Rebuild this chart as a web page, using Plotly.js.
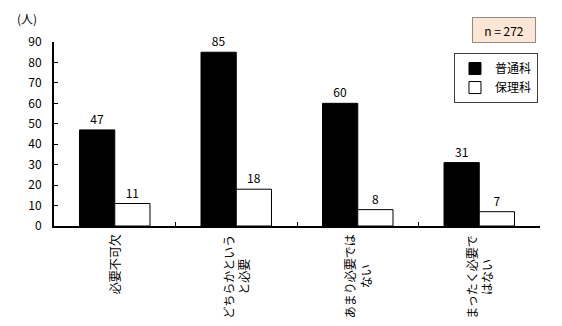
<!DOCTYPE html>
<html>
<head>
<meta charset="utf-8">
<script src="https://cdn.plot.ly/plotly-3.0.1.min.js"></script>
<style>html,body{margin:0;padding:0;background:#fff;}</style>
</head>
<body>
<div id="chart" style="width:562px;height:326px;"></div>
<script>
const categories = ['必要不可欠', 'どちらかというと必要', 'あまり必要ではない', 'まったく必要ではない'];
const categoryLabels = ['必要不可欠', 'どちらかという<br>と必要', 'あまり必要では<br>ない', 'まったく必要で<br>はない'];
const seriesNames = ['普通科', '保理科'];
const futsuka = [47, 85, 60, 31];
const hokenka = [11, 18, 8, 7];
const yTicks = [0, 10, 20, 30, 40, 50, 60, 70, 80, 90];
const unitLabel = '(人)';
const nLabel = 'n = 272';

const FONT = '"Noto Sans CJK JP", "Liberation Sans", sans-serif';

const traces = [
  {
    type: 'bar', name: seriesNames[0], x: categories, y: futsuka,
    marker: {color: '#000000', line: {color: '#000000', width: 1}},
    text: futsuka.map(String), textposition: 'outside', cliponaxis: false,
    textfont: {family: FONT, size: 12, color: '#000'}
  },
  {
    type: 'bar', name: seriesNames[1], x: categories, y: hokenka,
    marker: {color: '#ffffff', line: {color: '#000000', width: 1}},
    text: hokenka.map(String), textposition: 'outside', cliponaxis: false,
    textfont: {family: FONT, size: 12, color: '#000'}
  }
];

const annotations = categories.map((c, i) => ({
  x: c, xref: 'x', y: -0.035, yref: 'paper',
  text: categoryLabels[i], textangle: -90, showarrow: false,
  xanchor: 'center', yanchor: 'top', align: 'center',
  font: {family: FONT, size: 12, color: '#000'}
}));
annotations.push({
  x: -0.055, xref: 'paper', y: 1.13, yref: 'paper', text: unitLabel,
  showarrow: false, xanchor: 'center', yanchor: 'middle',
  font: {family: FONT, size: 12, color: '#000'}
});
annotations.push({
  x: 0.926, xref: 'paper', y: 1.065, yref: 'paper', text: nLabel,
  showarrow: false, xanchor: 'center', yanchor: 'middle',
  width: 58, height: 20, borderpad: 2,
  bgcolor: '#fde6d3', bordercolor: '#8c8c8c', borderwidth: 1,
  font: {family: FONT, size: 12, color: '#000'}
});

const layout = {
  width: 562, height: 326,
  margin: {l: 54, r: 22, t: 42, b: 100},
  paper_bgcolor: '#fff', plot_bgcolor: '#fff',
  barmode: 'group', bargap: 0.42, bargroupgap: 0,
  showlegend: true,
  legend: {
    x: 0.823, y: 0.94, xanchor: 'left', yanchor: 'top',
    bgcolor: '#fff', bordercolor: '#404040', borderwidth: 1,
    font: {family: FONT, size: 12, color: '#000'},
    itemwidth: 30, tracegroupgap: 0
  },
  xaxis: {
    type: 'category', range: [-0.5, 3.5], showticklabels: false,
    tickson: 'boundaries', ticks: 'inside', ticklen: 4, tickcolor: '#000',
    showline: true, linecolor: '#000', linewidth: 2, showgrid: false, zeroline: false,
    fixedrange: true
  },
  yaxis: {
    range: [0, 90], tickvals: yTicks, ticktext: yTicks.map(String),
    ticks: 'inside', ticklen: 4, tickcolor: '#000',
    showline: true, linecolor: '#000', linewidth: 2, showgrid: false, zeroline: false,
    ticklabelstandoff: 8,
    tickfont: {family: FONT, size: 12, color: '#000'}
  },
  annotations: annotations
};

Plotly.newPlot('chart', traces, layout, {displayModeBar: false, staticPlot: true});
</script>
</body>
</html>
